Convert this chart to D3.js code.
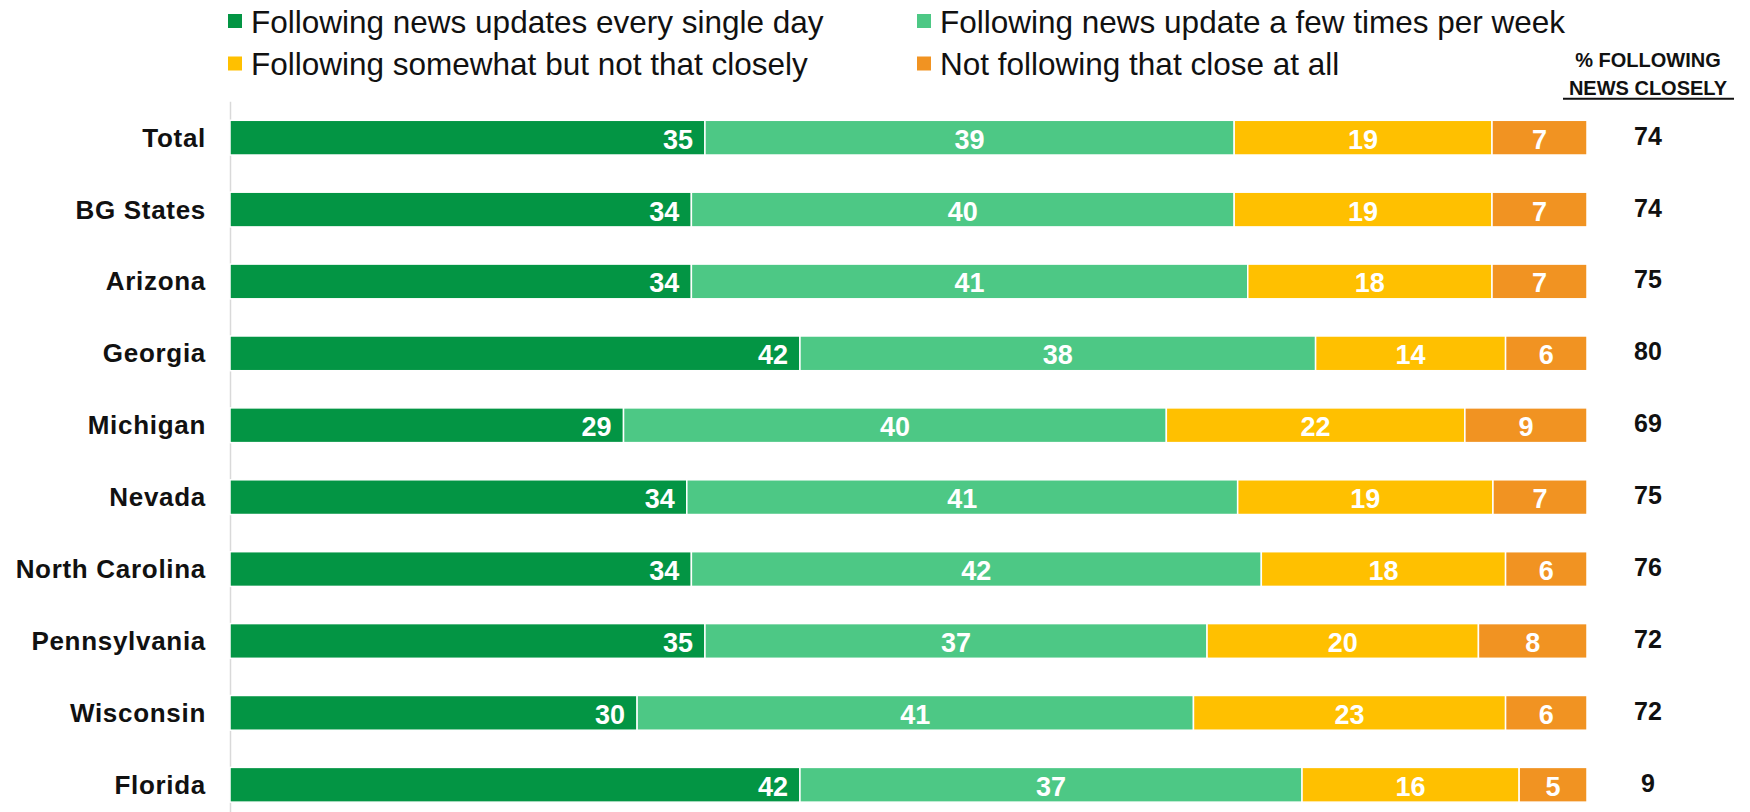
<!DOCTYPE html>
<html>
<head>
<meta charset="utf-8">
<script src="https://cdn.jsdelivr.net/npm/d3@7"></script>
<style>
  html, body { margin: 0; padding: 0; background: #ffffff; }
  svg { display: block; }
  text { font-family: "Liberation Sans", Arial, sans-serif; }
</style>
</head>
<body>
<svg id="chart" width="1750" height="812"></svg>
<script>
// ---- Data ----
const categories = ["Total", "BG States", "Arizona", "Georgia", "Michigan", "Nevada",
  "North Carolina", "Pennsylvania", "Wisconsin", "Florida"];
const seriesNames = [
  "Following news updates every single day",
  "Following news update a few times per week",
  "Following somewhat but not that closely",
  "Not following that close at all"
];
const everyDay   = [35, 34, 34, 42, 29, 34, 34, 35, 30, 42];
const fewTimes   = [39, 40, 41, 38, 40, 41, 42, 37, 41, 37];
const somewhat   = [19, 19, 18, 14, 22, 19, 18, 20, 23, 16];
const notClose   = [7, 7, 7, 6, 9, 7, 6, 8, 6, 5];
const followingClosely = [74, 74, 75, 80, 69, 75, 76, 72, 72, 9];
const headerLines = ["% FOLLOWING", "NEWS CLOSELY"];

const colors = ["#039544", "#4dc885", "#ffc000", "#f19322"];

// ---- Build table ----
const keys = ["s0", "s1", "s2", "s3"];
const rows = categories.map((c, i) => ({
  cat: c, s0: everyDay[i], s1: fewTimes[i], s2: somewhat[i], s3: notClose[i]
}));
const stacked = d3.stack().keys(keys).offset(d3.stackOffsetExpand)(rows);

const svg = d3.select("#chart");

const x = d3.scaleLinear().domain([0, 1]).range([230, 1587]);
const y = d3.scaleBand().domain(categories).range([101.7, 820.7])
  .paddingInner(0.517).paddingOuter(0.2585);

// axis line (left)
svg.append("line")
  .attr("x1", 230.5).attr("x2", 230.5)
  .attr("y1", 101.7).attr("y2", 812)
  .attr("stroke", "#d9d9d9").attr("stroke-width", 1.5);

// bars
const layer = svg.append("g").selectAll("g").data(stacked).join("g")
  .attr("fill", (d, i) => colors[i]);

layer.selectAll("rect").data(d => d.map(v => ({ v, cat: v.data.cat })))
  .join("rect")
  .attr("x", d => x(d.v[0]))
  .attr("y", d => y(d.cat))
  .attr("width", d => x(d.v[1]) - x(d.v[0]))
  .attr("height", y.bandwidth())
  .attr("stroke", "#ffffff")
  .attr("stroke-width", 1.5);

// segment labels
stacked.forEach((s, si) => {
  svg.append("g").selectAll("text").data(s).join("text")
    .attr("x", d => si === 0 ? x(d[1]) - 12 : (x(d[0]) + x(d[1])) / 2)
    .attr("y", d => y(d.data.cat) + y.bandwidth() / 2 + 11)
    .attr("text-anchor", si === 0 ? "end" : "middle")
    .attr("fill", "#ffffff")
    .attr("font-weight", "bold")
    .attr("font-size", 27)
    .text(d => d.data[keys[si]]);
});

// category labels
svg.append("g").selectAll("text").data(categories).join("text")
  .attr("x", 206)
  .attr("y", d => y(d) + y.bandwidth() / 2 + 9)
  .attr("text-anchor", "end")
  .attr("font-weight", "bold")
  .attr("font-size", 26)
  .attr("letter-spacing", 0.7)
  .attr("fill", "#111111")
  .text(d => d);

// right column values
svg.append("g").selectAll("text").data(categories).join("text")
  .attr("x", 1648)
  .attr("y", (d) => y(d) + y.bandwidth() / 2 + 7)
  .attr("text-anchor", "middle")
  .attr("font-weight", "bold")
  .attr("font-size", 25)
  .attr("fill", "#111111")
  .text((d, i) => followingClosely[i]);

// header
svg.append("text").attr("x", 1648).attr("y", 67)
  .attr("text-anchor", "middle").attr("font-weight", "bold").attr("font-size", 20)
  .attr("fill", "#111111").text(headerLines[0]);
svg.append("text").attr("x", 1648).attr("y", 95)
  .attr("text-anchor", "middle").attr("font-weight", "bold").attr("font-size", 20)
  .attr("fill", "#111111").text(headerLines[1]);
svg.append("line").attr("x1", 1563).attr("x2", 1734).attr("y1", 98.8).attr("y2", 98.8)
  .attr("stroke", "#111111").attr("stroke-width", 2);

// legend
const legendPos = [
  { x: 228, y: 21 }, { x: 917, y: 21 },
  { x: 228, y: 63.5 }, { x: 917, y: 63.5 }
];
const lg = svg.append("g").selectAll("g").data(seriesNames).join("g")
  .attr("transform", (d, i) => `translate(${legendPos[i].x},${legendPos[i].y})`);
lg.append("rect").attr("x", 0).attr("y", -7).attr("width", 14).attr("height", 14)
  .attr("fill", (d, i) => colors[i]);
lg.append("text").attr("x", 23).attr("y", 11.5)
  .attr("font-size", 31.5).attr("fill", "#111111")
  .text(d => d);
</script>
</body>
</html>
